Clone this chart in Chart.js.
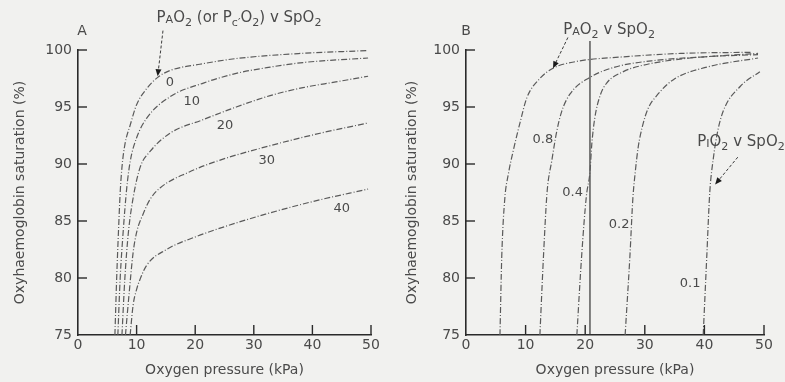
<!DOCTYPE html>
<html>
<head>
<meta charset="utf-8">
<script src="https://cdn.jsdelivr.net/npm/chart.js@4/dist/chart.umd.min.js"></script>
<style>
  html, body { margin: 0; padding: 0; background: #f1f1ef; }
  #wrap { position: relative; width: 785px; height: 382px; overflow: hidden; }
  #wa { position: absolute; left: 0; top: 0; width: 392px; height: 382px; }
  #wb { position: absolute; left: 392px; top: 0; width: 393px; height: 382px; }
</style>
</head>
<body>
<div id="wrap">
  <div id="wa"><canvas id="ca" width="392" height="382"></canvas></div>
  <div id="wb"><canvas id="cb" width="393" height="382"></canvas></div>
</div>
<script>
// ---- Axis ticks (kPa, %) ----
const xTicks = [0, 10, 20, 30, 40, 50];
const yTicks = [75, 80, 85, 90, 95, 100];

// ---- Panel A: alveolar (or end-capillary) PO2 v SpO2, one curve per shunt (%) ----
const shuntLabels = ['0', '10', '20', '30', '40'];
const shunt0  = [[6.3,75],[6.6,80],[6.9,84],[7.2,87.5],[7.5,89.7],[8.0,91.7],[8.9,93.4],[10.0,95.2],[11.7,96.6],[13.6,97.6],[15.7,98.2],[20.8,98.75],[27,99.25],[38,99.7],[49.5,99.95]];
const shunt10 = [[6.8,75],[7.2,80],[7.7,84],[8.3,87.8],[8.9,90.2],[10.0,92.3],[11.7,94.0],[15.7,95.9],[21.4,97.1],[27,97.95],[32.8,98.5],[38.4,98.9],[49.5,99.3]];
const shunt20 = [[7.5,75],[8.0,80],[8.6,84],[9.4,87.0],[10.6,89.7],[12.3,91.1],[15.7,92.7],[21.4,93.9],[27,95.0],[32.8,96.0],[38.4,96.7],[44,97.2],[49.5,97.7]];
const shunt30 = [[8.1,75],[8.7,78.5],[9.4,82.2],[10.0,84.0],[11.1,85.6],[12.3,86.9],[14,87.9],[19,89.3],[24,90.3],[32,91.5],[41.3,92.7],[49.5,93.6]];
const shunt40 = [[8.9,75],[9.4,77.6],[10.0,79],[10.6,79.9],[11.7,81.1],[15.1,82.5],[20,83.6],[25,84.5],[32,85.6],[40,86.7],[49.5,87.8]];

// ---- Panel B: alveolar PO2 v SpO2 and inspired PO2 v SpO2 curves ----
const alveolarB  = [[5.7,75],[6.0,81.9],[6.5,86.9],[7.1,89.1],[7.9,91.1],[9.1,93.7],[10.2,95.8],[12.4,97.5],[14.6,98.4],[18.6,99.0],[26.4,99.4],[36,99.7],[48,99.8]];
const inspiredLabels = ['0.8', '0.4', '0.2', '0.1'];
const inspired08 = [[12.4,75],[13.0,81.9],[13.6,87.5],[14.4,90.3],[15.2,92.8],[16.05,94.6],[17.4,96.1],[20.8,97.6],[25,98.5],[32,99.1],[40,99.4],[49,99.7]];
const inspired04 = [[18.6,75],[19.4,81.9],[20.2,87.2],[20.8,89.3],[21.1,91.7],[21.6,94.0],[22.5,96.0],[23.6,97.1],[26.4,98.1],[29.2,98.6],[37.6,99.3],[49,99.6]];
const inspired02 = [[26.7,75],[27.5,81.9],[28.0,87.0],[28.4,89.3],[28.9,91.5],[29.6,93.3],[30.5,94.8],[32,96.0],[34.8,97.4],[40.4,98.5],[49,99.3]];
const inspired01 = [[39.8,75],[40.4,81.9],[40.9,87.5],[41.5,90.5],[42.2,92.8],[43.2,94.7],[46,96.8],[49.3,98.1]];
const airInspiredPO2 = 20.8;

// ---- Styling ----
const FONT = 'DejaVu Sans';
const INK = '#4a4a4a';
const CURVE = '#5a5a5a';
const AXIS = '#2a2a2a';

const toPts = arr => arr.map(p => ({ x: p[0], y: p[1] }));

function curve(arr) {
  return {
    data: toPts(arr),
    showLine: true,
    borderColor: CURVE,
    borderWidth: 1.2,
    borderDash: [6, 2, 1, 2],
    pointRadius: 0,
    cubicInterpolationMode: 'monotone',
    fill: false
  };
}

// Draws a text made of runs: plain, small-cap and subscript pieces
function drawRich(ctx, x, y, runs, size) {
  let cx = x;
  ctx.textBaseline = 'middle';
  ctx.textAlign = 'left';
  runs.forEach(r => {
    let fs = size, dy = 0;
    if (r.k === 'sc') { fs = size * 0.74; dy = size * 0.12; }
    if (r.k === 'sub') { fs = size * 0.74; dy = size * 0.32; }
    ctx.font = fs + 'px "' + FONT + '"';
    ctx.fillText(r.t, cx, y + dy);
    cx += ctx.measureText(r.t).width;
  });
}

// Inward ticks, curve labels, panel letters and arrowed captions
const panelMarks = {
  id: 'panelMarks',
  afterDatasetsDraw(chart, args, opts) {
    const ctx = chart.ctx;
    const xs = chart.scales.x, ys = chart.scales.y;
    const area = chart.chartArea;
    ctx.save();
    // ticks pointing into the plot
    ctx.strokeStyle = AXIS;
    ctx.lineWidth = 1.4;
    ctx.setLineDash([]);
    yTicks.forEach(v => {
      if (v === ys.min) return;
      const py = ys.getPixelForValue(v);
      ctx.beginPath(); ctx.moveTo(area.left, py); ctx.lineTo(area.left + 9, py); ctx.stroke();
    });
    xTicks.forEach(v => {
      if (v === xs.min) return;
      const px = xs.getPixelForValue(v);
      ctx.beginPath(); ctx.moveTo(px, area.bottom); ctx.lineTo(px, area.bottom - 10); ctx.stroke();
    });
    // curve labels
    ctx.fillStyle = INK;
    ctx.font = '13px "' + FONT + '"';
    ctx.textAlign = 'center';
    ctx.textBaseline = 'middle';
    opts.labels.forEach(l => {
      ctx.fillText(l.text, xs.getPixelForValue(l.x), ys.getPixelForValue(l.y));
    });
    // panel letter
    ctx.font = '14px "' + FONT + '"';
    ctx.fillText(opts.letter.text, xs.getPixelForValue(opts.letter.x), ys.getPixelForValue(opts.letter.y));
    // captions
    opts.captions.forEach(c => {
      drawRich(ctx, xs.getPixelForValue(c.x), ys.getPixelForValue(c.y), c.runs, 15);
    });
    // arrows
    opts.arrows.forEach(a => {
      const x0 = xs.getPixelForValue(a.from[0]), y0 = ys.getPixelForValue(a.from[1]);
      const x1 = xs.getPixelForValue(a.to[0]), y1 = ys.getPixelForValue(a.to[1]);
      const ang = Math.atan2(y1 - y0, x1 - x0);
      ctx.strokeStyle = '#3a3a3a';
      ctx.lineWidth = 1;
      ctx.setLineDash([3, 2]);
      ctx.beginPath(); ctx.moveTo(x0, y0); ctx.lineTo(x1 - 4 * Math.cos(ang), y1 - 4 * Math.sin(ang)); ctx.stroke();
      ctx.setLineDash([]);
      ctx.fillStyle = '#1a1a1a';
      ctx.beginPath();
      ctx.moveTo(x1, y1);
      ctx.lineTo(x1 - 7 * Math.cos(ang) + 3 * Math.sin(ang), y1 - 7 * Math.sin(ang) - 3 * Math.cos(ang));
      ctx.lineTo(x1 - 7 * Math.cos(ang) - 3 * Math.sin(ang), y1 - 7 * Math.sin(ang) + 3 * Math.cos(ang));
      ctx.closePath(); ctx.fill();
      ctx.fillStyle = INK;
    });
    ctx.restore();
  }
};

function scales(yWidth) {
  return {
    x: {
      type: 'linear', min: 0, max: 50,
      afterBuildTicks: s => { s.ticks = xTicks.map(v => ({ value: v })); },
      ticks: { color: INK, font: { family: FONT, size: 14 }, padding: 2, maxRotation: 0, autoSkip: false },
      grid: { drawOnChartArea: false, drawTicks: false },
      border: { display: true, color: AXIS, width: 1.6 },
      title: { display: true, text: 'Oxygen pressure (kPa)', color: INK, font: { family: FONT, size: 14 }, padding: { top: 0, bottom: 3 } },
      afterFit: s => { s.height = 47; }
    },
    y: {
      type: 'linear', min: 75, max: 100,
      afterBuildTicks: s => { s.ticks = yTicks.map(v => ({ value: v })); },
      ticks: { color: INK, font: { family: FONT, size: 14 }, padding: 6, autoSkip: false },
      grid: { drawOnChartArea: false, drawTicks: false },
      border: { display: true, color: AXIS, width: 1.6 },
      title: { display: true, text: 'Oxyhaemoglobin saturation (%)', color: INK, font: { family: FONT, size: 14 }, padding: { top: 12, bottom: 0 } },
      afterFit: s => { s.width = yWidth; }
    }
  };
}

function baseOptions(yWidth, marks) {
  return {
    responsive: false,
    animation: false,
    devicePixelRatio: 1,
    layout: { autoPadding: false, padding: { left: 0, top: 50, right: 21, bottom: 0 } },
    plugins: { legend: { display: false }, tooltip: { enabled: false }, panelMarks: marks },
    scales: scales(yWidth)
  };
}

const rPAO2 = [{ t: 'P' }, { t: 'A', k: 'sc' }, { t: 'O' }, { t: '2', k: 'sub' }];
const rSpO2 = [{ t: 'Sp' }, { t: 'O' }, { t: '2', k: 'sub' }];

// Panel A
new Chart(document.getElementById('ca'), {
  type: 'scatter',
  data: { datasets: [shunt0, shunt10, shunt20, shunt30, shunt40].map(curve) },
  options: baseOptions(78, {
    labels: [
      { text: shuntLabels[0], x: 15.7, y: 97.1 },
      { text: shuntLabels[1], x: 19.4, y: 95.5 },
      { text: shuntLabels[2], x: 25.1, y: 93.4 },
      { text: shuntLabels[3], x: 32.2, y: 90.3 },
      { text: shuntLabels[4], x: 45.0, y: 86.1 }
    ],
    letter: { text: 'A', x: 0.7, y: 101.6 },
    captions: [{
      x: 13.4, y: 102.8,
      runs: rPAO2.concat([{ t: ' (or P' }, { t: 'c′', k: 'sub' }, { t: 'O' }, { t: '2', k: 'sub' }, { t: ') v ' }], rSpO2)
    }],
    arrows: [{ from: [14.5, 101.7], to: [13.6, 97.7] }]
  }),
  plugins: [panelMarks]
});

// Panel B
const bSets = [alveolarB, inspired08, inspired04, inspired02, inspired01].map(curve);
bSets.push({
  data: [{ x: airInspiredPO2, y: 75 }, { x: airInspiredPO2, y: 100.8 }],
  showLine: true, borderColor: '#333', borderWidth: 1.2, pointRadius: 0, clip: false
});
new Chart(document.getElementById('cb'), {
  type: 'scatter',
  data: { datasets: bSets },
  options: baseOptions(74, {
    labels: [
      { text: inspiredLabels[0], x: 12.9, y: 92.1 },
      { text: inspiredLabels[1], x: 17.9, y: 87.5 },
      { text: inspiredLabels[2], x: 25.7, y: 84.7 },
      { text: inspiredLabels[3], x: 37.6, y: 79.5 }
    ],
    letter: { text: 'B', x: 0, y: 101.6 },
    captions: [
      { x: 16.3, y: 101.75, runs: rPAO2.concat([{ t: ' v ' }], rSpO2) },
      { x: 38.8, y: 91.9, runs: [{ t: 'P' }, { t: 'I', k: 'sc' }, { t: 'O' }, { t: '2', k: 'sub' }, { t: ' v ' }].concat(rSpO2) }
    ],
    arrows: [
      { from: [17.1, 101.1], to: [14.6, 98.4] },
      { from: [45.6, 90.6], to: [41.8, 88.2] }
    ]
  }),
  plugins: [panelMarks]
});
</script>
</body>
</html>
